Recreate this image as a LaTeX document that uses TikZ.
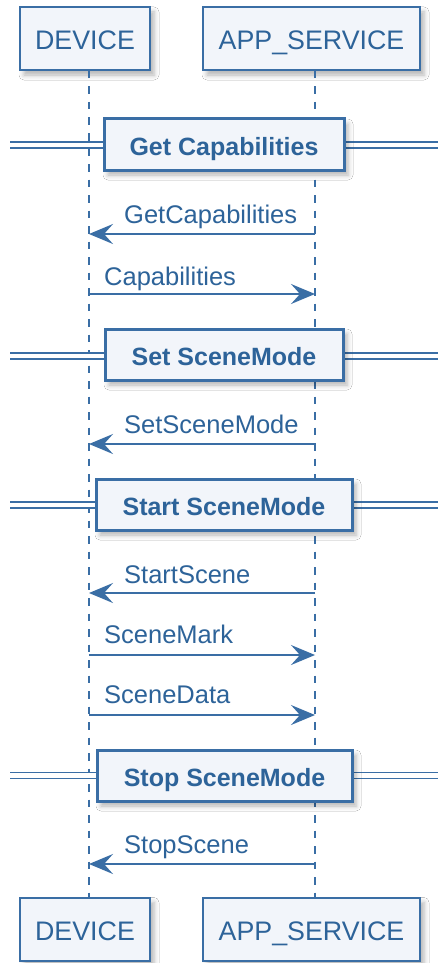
\documentclass[tikz,border=0pt]{standalone}
\usepackage{fontspec}
\setmainfont{Liberation Sans}
\usetikzlibrary{arrows.meta,shadows.blur}
\definecolor{ln}{HTML}{3A6EA5}
\definecolor{tx}{HTML}{2D6399}
\definecolor{bg}{HTML}{F2F5FA}
\tikzset{
  softshadow/.style={blur shadow={shadow xshift=4pt, shadow yshift=-5pt, shadow blur radius=5pt, shadow opacity=30}},
  part/.style={draw=ln, line width=2pt, fill=bg, text=tx, font=\fontsize{26.8}{30}\selectfont, inner sep=0pt, minimum height=63pt, text height=23pt, text depth=0pt, softshadow},
  grp/.style={draw=ln, line width=3pt, fill=bg, text=tx, font=\bfseries\fontsize{25}{28}\selectfont, inner sep=0pt, minimum height=51pt, text height=21pt, text depth=0pt, softshadow},
  msg/.style={draw=ln, line width=1.6pt, -{Stealth[length=24pt,width=20pt,inset=9pt]}},
  lbl/.style={text=tx, font=\fontsize{25.5}{28}\selectfont, inner sep=0pt, anchor=base west},
  life/.style={draw=ln, line width=1.5pt, dash pattern=on 7.5pt off 8pt},
  dbl/.style={draw=ln, line width=1.5pt, double=white, double distance=4.5pt}
}
\begin{document}
\begin{tikzpicture}[x=1pt,y=-1pt]
\useasboundingbox (0,0) rectangle (438,963);
\fill[white] (0,0) rectangle (438,963);
\coordinate (D) at (89,0);
\coordinate (A) at (315,0);
\coordinate (L) at (10,0);
\coordinate (R) at (438,0);
% participants
\node[part, minimum width=130pt] (dt) at (85,38.5) {DEVICE};
\node[part, minimum width=217pt] (at) at (311.5,38.5) {APP\_SERVICE};
\node[part, minimum width=130pt] (db) at (85,929) {DEVICE};
\node[part, minimum width=217pt] (ab) at (311.5,929) {APP\_SERVICE};
% lifelines
\draw[life] (D |- dt.south) -- (D |- db.north);
\draw[life] (A |- at.south) -- (A |- ab.north);
% dividers
\draw[dbl] (L |- 0,145) -- (R |- 0,145);
\node[grp, minimum width=240pt] (g1) at (224,144.5) {Get Capabilities};
\draw[dbl] (L |- 0,356) -- (R |- 0,356);
\node[grp, minimum width=238pt] (g2) at (224,354.5) {Set SceneMode};
\draw[dbl] (L |- 0,505) -- (R |- 0,505);
\node[grp, minimum width=256pt] (g3) at (224,504.5) {Start SceneMode};
\draw[dbl] (L |- 0,775.5) -- (R |- 0,775.5);
\node[grp, minimum width=255pt] (g4) at (224.5,775.5) {Stop SceneMode};
% messages
\draw[msg] (A |- 0,234) -- (D |- 0,234);
\node[lbl] (m1) at (124,223) {GetCapabilities};
\draw[msg] (D |- 0,294) -- (A |- 0,294);
\node[lbl] (m2) at (104,285) {Capabilities};
\draw[msg] (A |- 0,444) -- (D |- 0,444);
\node[lbl] (m3) at (124,433) {SetSceneMode};
\draw[msg] (A |- 0,593) -- (D |- 0,593);
\node[lbl] (m4) at (124,583) {StartScene};
\draw[msg] (D |- 0,655) -- (A |- 0,655);
\node[lbl] (m5) at (104,643) {SceneMark};
\draw[msg] (D |- 0,715) -- (A |- 0,715);
\node[lbl] (m6) at (104,703) {SceneData};
\draw[msg] (A |- 0,864) -- (D |- 0,864);
\node[lbl] (m7) at (124,853) {StopScene};
\end{tikzpicture}
\end{document}
